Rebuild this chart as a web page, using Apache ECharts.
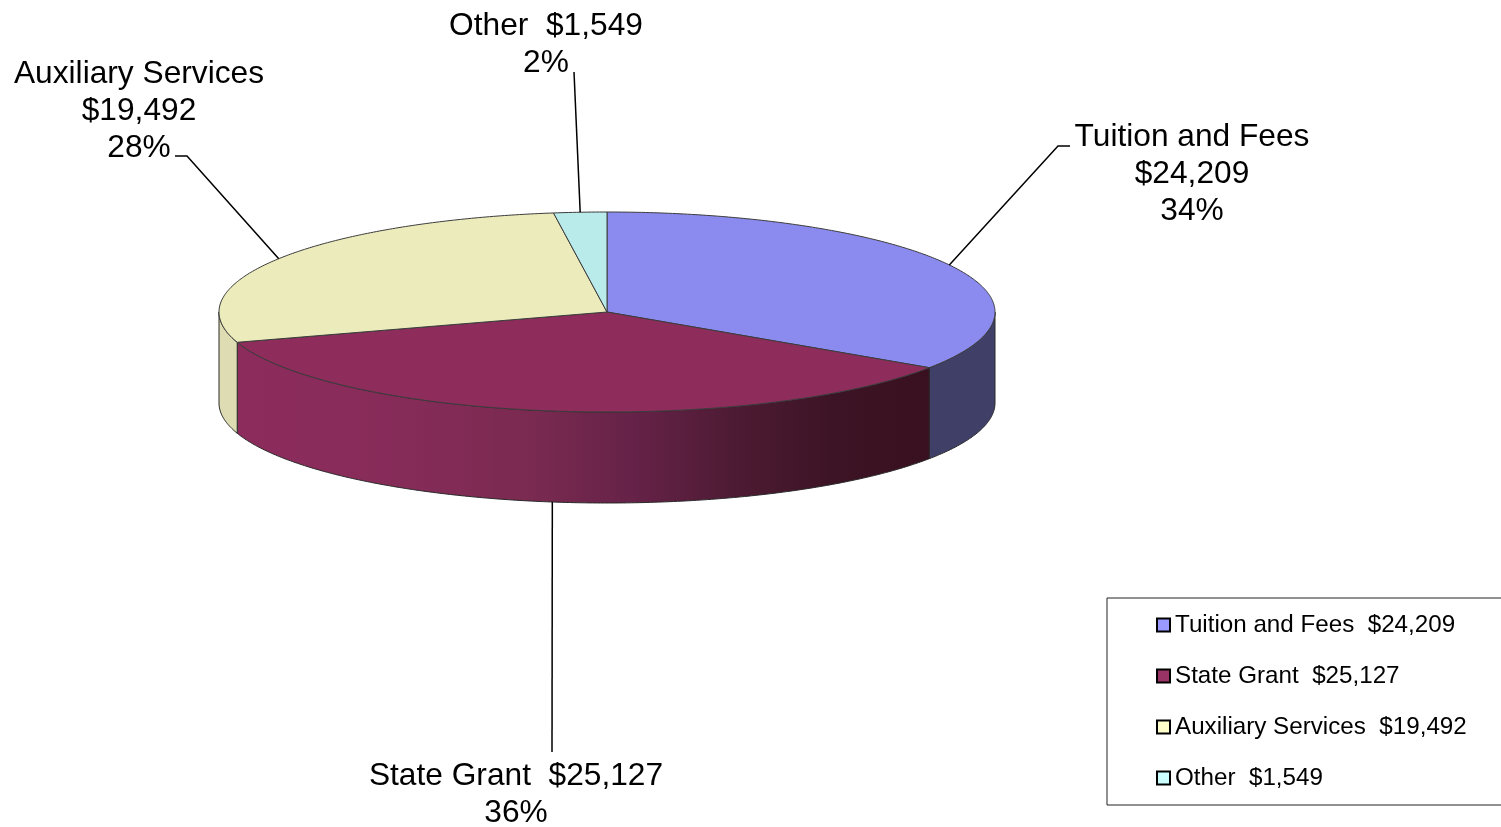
<!DOCTYPE html>
<html>
<head>
<meta charset="utf-8">
<title>Revenue by source</title>
<style>
  html, body { margin: 0; padding: 0; background: #fff; overflow: hidden; }
  #chart { width: 1501px; height: 827px; }
</style>
<script src="https://cdn.jsdelivr.net/npm/echarts@6/dist/echarts.min.js"></script>
</head>
<body>
<div id="chart"></div>
<script>
// Revenue sources
const categories = ['Tuition and Fees', 'State Grant', 'Auxiliary Services', 'Other'];
const amounts = [24209, 25127, 19492, 1549];
// How the name and the amount are joined in each slice label
const labelJoins = ['\n', '  ', '\n', '  '];

// Colours
const legendColors = ['#9999FF', '#993366', '#FFFFCC', '#CCFFFF'];
const topColors = ['#8B8BEF', '#8E2C5C', '#ECEBBB', '#B9EBEB'];
const wallColors = [
  ['#3F3F68'],
  ['#8B2C5C', '#8A2C5B', '#832B57', '#7A2A50', '#662248', '#4E1B34', '#3D1425', '#38101F'],
  ['#DEDCB2'],
  ['#9AC4C4']
];

// Layout of the tilted disc, in pixels
const disc = { cx: 607, cy: 312, rx: 388, ry: 100, depth: 91 };
const FONT = '"Liberation Sans", Arial, sans-serif';
const labelSize = 31.7;
const labelLine = 37;
// Where each slice label sits and where its leader line turns or stops
const labelAnchors = [[1192, 174], [516, 795], [139, 111], [546, 45]];
const leaderEnds = [
  [[1058, 146], [1070, 146]],
  [[552, 752]],
  [[187, 156], [175, 156]],
  [[574, 72]]
];

const total = amounts.reduce((a, b) => a + b, 0);
const money = v => '$' + v.toLocaleString('en-US');

// Angles run clockwise from the top of the disc
function rimPoint(angle, drop) {
  return [disc.cx + disc.rx * Math.sin(angle), disc.cy - disc.ry * Math.cos(angle) + (drop || 0)];
}
function arc(from, to, drop) {
  const steps = Math.max(2, Math.ceil(Math.abs(to - from) / 0.01));
  const pts = [];
  for (let i = 0; i <= steps; i++) {
    pts.push(rimPoint(from + (to - from) * i / steps, drop));
  }
  return pts;
}

function renderSlice(index, value, before) {
  const a0 = before / total * Math.PI * 2;
  const a1 = (before + value) / total * Math.PI * 2;
  const mid = (a0 + a1) / 2;
  const children = [];

  // Outer wall, only the part that faces the viewer
  const w0 = Math.max(a0, Math.PI / 2);
  const w1 = Math.min(a1, Math.PI * 3 / 2);
  if (w1 > w0) {
    const stops = wallColors[index];
    const fill = stops.length === 1 ? stops[0] : new echarts.graphic.LinearGradient(1, 0, 0, 0,
      stops.map((color, i) => ({ offset: 1 - i / (stops.length - 1), color })).reverse());
    children.push({
      type: 'polygon',
      shape: { points: arc(w0, w1, 0).concat(arc(w1, w0, disc.depth)) },
      style: { fill: fill, stroke: '#2a2a2a', lineWidth: 1 }
    });
  }

  // Top face
  children.push({
    type: 'polygon',
    shape: { points: [[disc.cx, disc.cy]].concat(arc(a0, a1, 0)) },
    style: { fill: topColors[index], stroke: '#3c3c3c', lineWidth: 1 }
  });

  // Leader line from the rim at the middle of the slice
  const facesViewer = mid > Math.PI / 2 && mid < Math.PI * 3 / 2;
  children.push({
    type: 'polyline',
    shape: { points: [rimPoint(mid, facesViewer ? disc.depth : 0)].concat(leaderEnds[index]) },
    style: { fill: null, stroke: '#000', lineWidth: 1.5 }
  });

  // Slice label
  const pct = Math.round(value / total * 100) + '%';
  children.push({
    type: 'text',
    x: labelAnchors[index][0],
    y: labelAnchors[index][1],
    style: {
      text: categories[index] + labelJoins[index] + money(value) + '\n' + pct,
      fill: '#000',
      font: labelSize + 'px ' + FONT,
      lineHeight: labelLine,
      align: 'center',
      verticalAlign: 'middle'
    }
  });

  return { type: 'group', children };
}

const seriesNames = categories.map((c, i) => c + '  ' + money(amounts[i]));

const option = {
  animation: false,
  backgroundColor: '#fff',
  legend: {
    orient: 'vertical',
    left: 1107,
    top: 598,
    padding: [15, 70, 15, 49],
    itemGap: 27,
    itemWidth: 13,
    itemHeight: 13,
    selectedMode: false,
    borderColor: '#222',
    borderWidth: 1,
    icon: 'rect',
    textStyle: { color: '#000', fontSize: 24.2, fontFamily: FONT },
    data: seriesNames.map((name, i) => ({
      name,
      itemStyle: { color: legendColors[i], borderColor: '#000', borderWidth: 2 }
    }))
  },
  series: categories.map((c, i) => ({
    type: 'custom',
    name: seriesNames[i],
    coordinateSystem: 'none',
    silent: true,
    clip: false,
    itemStyle: { color: legendColors[i] },
    data: [[amounts[i]]],
    renderItem: (params, api) => renderSlice(
      i,
      api.value(0),
      amounts.slice(0, i).reduce((a, b) => a + b, 0)
    )
  }))
};

echarts.init(document.getElementById('chart'), null, { renderer: 'canvas' }).setOption(option);
</script>
</body>
</html>
